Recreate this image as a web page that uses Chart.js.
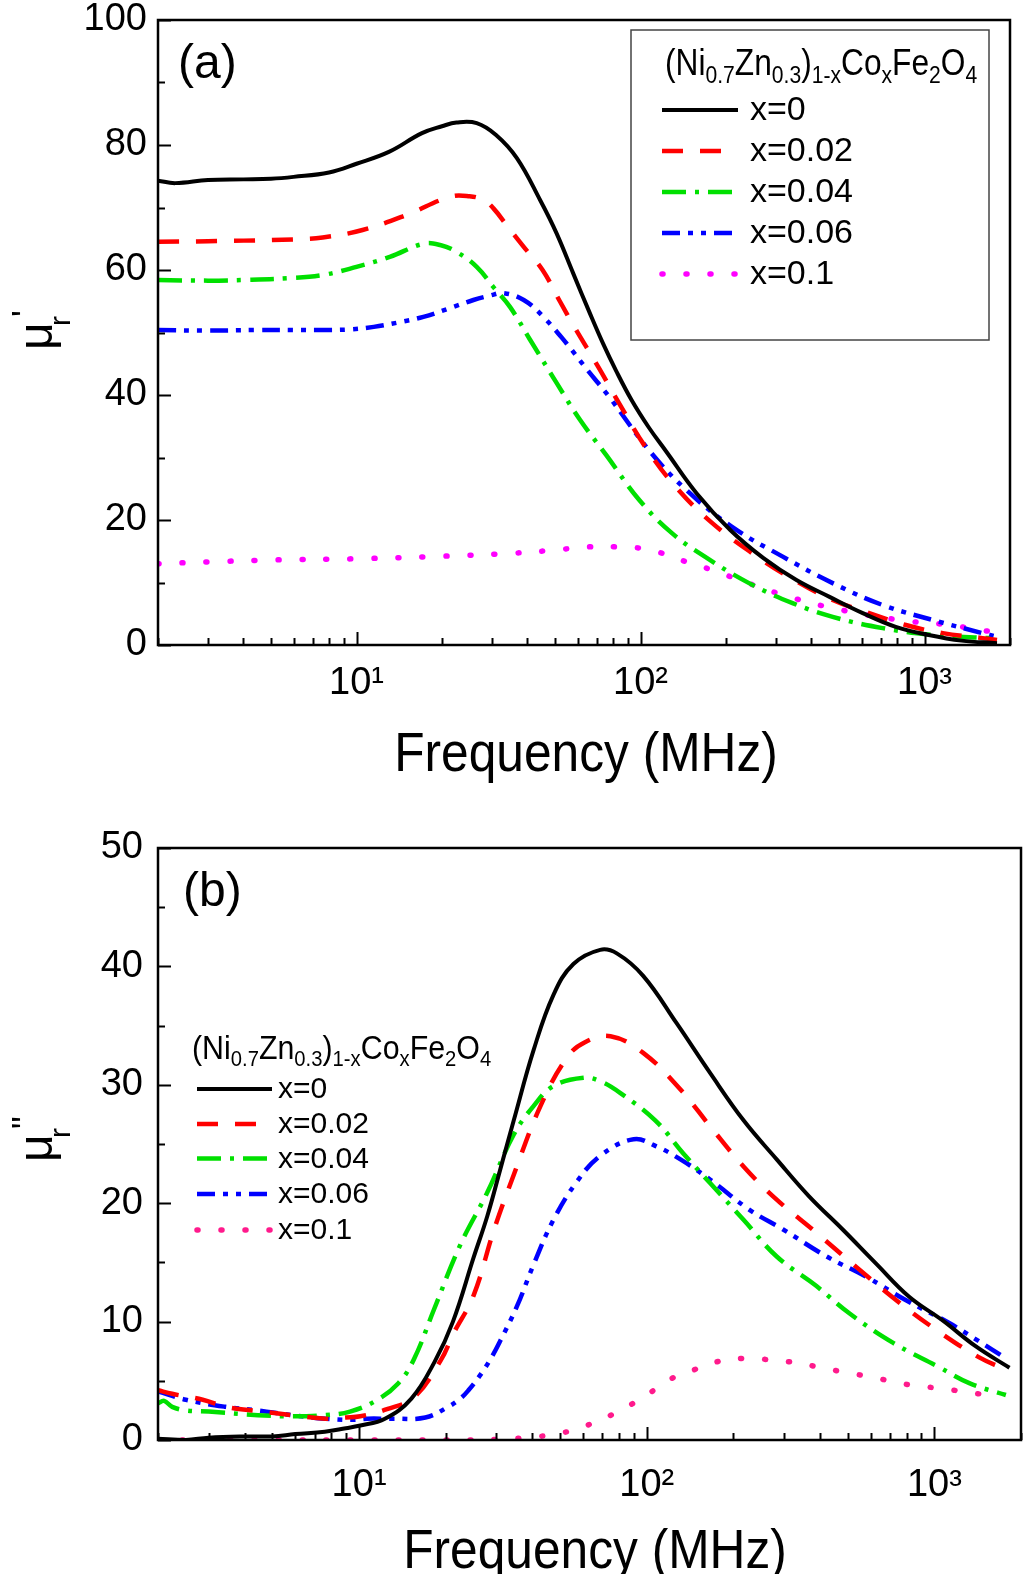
<!DOCTYPE html>
<html>
<head>
<meta charset="utf-8">
<script src="https://cdn.jsdelivr.net/npm/chart.js@4.4.0/dist/chart.umd.min.js"></script>
<style>
  body { margin: 0; background: #fff; overflow: hidden; }
  #wrap { position: relative; width: 1024px; height: 1574px; }
  .panel { position: absolute; left: 0; width: 1024px; height: 787px; }
</style>
</head>
<body>
<div id="wrap">
  <div class="panel" style="top:0"><canvas id="realChart" width="1024" height="787"></canvas></div>
  <div class="panel" style="top:787px"><canvas id="imagChart" width="1024" height="787"></canvas></div>
</div>
<script>
// ---------- data ----------
const seriesLabels = ["x=0", "x=0.02", "x=0.04", "x=0.06", "x=0.1"];
const freqTicks = [10, 100, 1000];
const freqTickLabels = ["10\u00B9", "10\u00B2", "10\u00B3"];
const muRealTicks = [0, 20, 40, 60, 80, 100];
const muImagTicks = [0, 10, 20, 30, 40, 50];

// (a) real part mu'
const fA0 = [2, 2.3, 3, 4, 5, 6, 8, 10, 13, 17, 20, 22.5, 26.5, 31, 36.7, 44.3, 50.6, 57.9, 66.3, 73.7, 82, 93, 107, 123, 158, 207, 271, 354, 463, 606, 792, 1035, 1350, 1800];
const muA0 = [74.3, 73.9, 74.4, 74.5, 74.6, 74.9, 75.6, 77.0, 78.9, 81.9, 83.0, 83.6, 83.5, 81.6, 77.9, 71.2, 65.9, 59.5, 53.1, 48.3, 43.9, 39.2, 34.8, 31.0, 24.2, 18.4, 13.9, 10.4, 7.7, 5.1, 2.9, 1.6, 0.7, 0.3];
const fA1 = [2, 3, 4, 6, 7.6, 10.5, 15, 21.3, 25, 28, 30.3, 34, 38.8, 45.2, 52, 59, 71, 85, 104, 133, 179, 247, 333, 475, 622, 860, 1160, 1600, 1800];
const muA1 = [64.5, 64.6, 64.7, 64.9, 65.2, 66.4, 68.8, 71.7, 71.8, 71.2, 69.9, 67.0, 63.7, 60.0, 55.0, 50.6, 44.5, 38.3, 31.7, 25.3, 19.5, 14.7, 10.9, 7.2, 5.3, 3.2, 1.9, 1.1, 0.8];
const fA2 = [2, 3, 4, 5.8, 7.6, 10, 13.1, 17.2, 19.7, 22.5, 26.5, 30.3, 34.7, 40.9, 50.7, 61.3, 76, 99, 129, 169, 241, 343, 475, 712, 1070, 1500, 1790];
const muA2 = [58.4, 58.3, 58.4, 58.7, 59.2, 60.5, 62.1, 64.2, 64.0, 62.9, 60.5, 57.3, 54.1, 48.8, 41.9, 36.0, 30.3, 23.2, 17.9, 14.1, 9.9, 6.7, 4.5, 2.7, 1.6, 1.2, 1.1];
const fA3 = [2, 3, 4.4, 6, 7.6, 9.5, 11.5, 14, 17.2, 21, 25.8, 29.5, 32.9, 38.8, 45.5, 55, 65, 77.6, 107, 145, 210, 318, 475, 712, 1070, 1600, 1800];
const muA3 = [50.4, 50.3, 50.4, 50.4, 50.4, 50.5, 50.9, 51.6, 52.5, 53.8, 55.2, 55.9, 56.3, 55.2, 52.5, 48.2, 44.0, 39.7, 31.2, 24.8, 18.9, 14.1, 9.9, 6.4, 4.0, 1.9, 1.3];
const fA4 = [2, 3, 5, 10, 20, 36, 50, 66, 82, 99, 119, 145, 179, 223, 318, 475, 813, 1223, 1520, 1800];
const muA4 = [13.0, 13.3, 13.6, 13.8, 14.2, 14.7, 15.2, 15.7, 15.7, 15.5, 14.7, 13.3, 12.0, 10.4, 8.0, 5.9, 4.0, 3.2, 2.5, 2.0];

// (b) imaginary part mu''
const fB0 = [2, 2.5, 3, 4, 5, 6, 7.6, 9, 10, 12.3, 15.2, 18.3, 21.2, 25, 27.9, 31, 34.5, 40.4, 47.4, 55.6, 68.9, 78.7, 97.2, 127, 166, 217, 283, 366, 479, 627, 817, 1068, 1394, 1824];
const muB0 = [0.1, 0.0, 0.2, 0.3, 0.3, 0.5, 0.7, 1.0, 1.2, 1.8, 3.5, 6.6, 10.0, 15.4, 18.9, 22.9, 27.0, 32.9, 37.6, 40.2, 41.4, 41.1, 39.2, 35.2, 31.0, 27.0, 23.7, 20.6, 17.8, 14.9, 12.1, 10.1, 7.9, 6.1];
const fB1 = [2, 2.24, 2.86, 3.44, 4.26, 5.85, 7.64, 9, 10.1, 12.5, 15.5, 19.2, 21.3, 25, 29.4, 34.5, 42.7, 52.8, 61, 74.8, 97.2, 131, 166, 217, 283, 389, 536, 737, 1015, 1426, 1750];
const muB1 = [4.2, 3.9, 3.4, 2.8, 2.5, 2.1, 1.8, 1.9, 2.0, 2.6, 3.6, 6.7, 9.0, 12.2, 17.7, 22.4, 28.2, 32.3, 33.6, 34.1, 32.7, 29.6, 26.5, 23.1, 20.3, 17.5, 14.6, 11.8, 9.3, 7.0, 6.0];
const fB2 = [2, 2.1, 2.24, 2.5, 3.0, 4.45, 5.85, 7.64, 9.3, 11.4, 13.7, 15.5, 18.2, 22.5, 27.9, 34.5, 40.4, 47.4, 60.3, 68.9, 81, 107, 134, 166, 217, 283, 389, 506, 719, 1030, 1322, 1772];
const muB2 = [3.1, 3.3, 2.8, 2.5, 2.4, 2.1, 2.0, 2.1, 2.4, 3.3, 4.8, 6.8, 11.0, 16.5, 20.9, 25.8, 28.2, 29.9, 30.6, 30.3, 29.3, 27.0, 24.2, 21.7, 18.6, 15.5, 13.0, 10.7, 8.2, 6.2, 4.8, 3.8];
const fB3 = [2, 2.5, 3.44, 4.45, 5.85, 7.64, 9.5, 10.7, 13, 17, 20.4, 22.5, 24, 26.4, 28.9, 31, 35.4, 40.4, 47.4, 57.1, 68.9, 90, 108, 131, 166, 229, 297, 422, 578, 797, 1122, 1394, 1772];
const muB3 = [4.1, 3.4, 2.8, 2.5, 2.1, 1.8, 1.7, 1.8, 1.8, 1.9, 2.8, 3.5, 4.2, 5.5, 7.0, 8.4, 11.3, 14.8, 18.6, 21.8, 24.0, 25.4, 24.8, 23.7, 22.0, 19.4, 17.8, 15.5, 13.8, 11.8, 9.9, 8.5, 6.9];
const fB4 = [2, 5, 10, 20, 30, 37.8, 45.4, 54.9, 65.9, 81, 100, 120, 145, 175, 217, 260, 314, 389, 468, 578, 698, 844, 1013, 1254, 1515];
const muB4 = [0, 0, 0, 0, 0.05, 0.2, 0.4, 0.8, 1.5, 2.5, 3.8, 5.1, 5.9, 6.6, 6.9, 6.8, 6.6, 6.2, 5.8, 5.4, 5.0, 4.6, 4.4, 4.1, 3.8];

// ---------- styles ----------
const FONT = '"Liberation Sans", Arial, sans-serif';
Chart.defaults.font.family = FONT;
Chart.defaults.color = "#000";

const colorsA = ["#000000", "#ff0000", "#00e000", "#0000ff", "#ff00ff"];
const colorsB = ["#000000", "#ff0000", "#00e000", "#0000ff", "#ff1a8c"];
const lineStyles = [
    { dash: [], cap: "butt", width: 4 },
    { dash: [21, 17], cap: "butt", width: 4.5 },
    { dash: [24, 9, 4, 9], cap: "butt", width: 4.5 },
    { dash: [18, 8, 5, 8, 5, 8], cap: "butt", width: 4.5 },
    { dash: [1, 23], cap: "round", width: 5.5 }
];
const formulaParts = [["(Ni", 0], ["0.7", 1], ["Zn", 0], ["0.3", 1], [")", 0], ["1-x", 1],
                      ["Co", 0], ["x", 1], ["Fe", 0], ["2", 1], ["O", 0], ["4", 1]];

function toPoints(fs, vs) {
    return fs.map((f, i) => ({ x: f, y: vs[i] }));
}

function makeDatasets(freqs, values, colors) {
    return values.map((vs, i) => ({
        label: seriesLabels[i],
        data: toPoints(freqs[i], vs),
        borderColor: colors[i],
        borderWidth: lineStyles[i].width,
        borderDash: lineStyles[i].dash,
        borderCapStyle: lineStyles[i].cap,
        pointRadius: 0,
        fill: false,
        tension: 0.4
    }));
}

// rich text with subscripts, left to right, slightly condensed
function drawFormula(ctx, x, y, L) {
    ctx.save();
    ctx.translate(x, y);
    ctx.scale(L.squeeze, 1);
    ctx.textAlign = "left";
    ctx.textBaseline = "alphabetic";
    let cx = 0;
    formulaParts.forEach(([txt, sub]) => {
        ctx.font = (sub ? L.subSize : L.titleSize) + "px " + FONT;
        ctx.fillText(txt, cx, sub ? L.subDrop : 0);
        cx += ctx.measureText(txt).width;
    });
    ctx.restore();
}

// ---------- frame, inner ticks, labels, legend ----------
const panelPlugin = {
    id: "panel",
    afterDraw(chart) {
        const o = chart.options.plugins.panel;
        const { ctx, chartArea: a } = chart;
        const xs = chart.scales.x, ys = chart.scales.y;
        ctx.save();
        ctx.strokeStyle = "#000";
        ctx.fillStyle = "#000";

        // minor / major ticks on bottom axis (log), pointing inwards
        ctx.lineWidth = 2;
        for (let d = 1; d <= 1000; d *= 10) {
            for (let m = 1; m <= 9; m++) {
                const v = d * m;
                if (v < xs.min || v > xs.max) continue;
                const px = Math.round(xs.getPixelForValue(v)) + 0.5;
                const len = m === 1 ? 13 : 7;
                ctx.beginPath();
                ctx.moveTo(px, a.bottom);
                ctx.lineTo(px, a.bottom - len);
                ctx.stroke();
            }
        }
        // left axis ticks
        for (let v = ys.min; v <= ys.max; v += o.minorStep) {
            const py = Math.round(ys.getPixelForValue(v)) + 0.5;
            const len = (v % o.majorStep === 0) ? 13 : 7;
            ctx.beginPath();
            ctx.moveTo(a.left, py);
            ctx.lineTo(a.left + len, py);
            ctx.stroke();
        }
        // frame
        ctx.lineWidth = 2.5;
        ctx.strokeRect(a.left, a.top, a.right - a.left, a.bottom - a.top);

        // panel tag
        ctx.font = "48px " + FONT;
        ctx.textAlign = "left";
        ctx.textBaseline = "alphabetic";
        ctx.fillText(o.tag, o.tagX, o.tagY);

        // x title (condensed like the original)
        ctx.save();
        ctx.translate(o.xTitleX, o.xTitleY);
        ctx.scale(0.887, 1);
        ctx.font = "56px " + FONT;
        ctx.textAlign = "center";
        ctx.fillText("Frequency (MHz)", 0, 0);
        ctx.restore();

        // y title: mu with subscript r and primes, rotated
        ctx.save();
        ctx.translate(52, o.yTitleY);
        ctx.rotate(-Math.PI / 2);
        ctx.textAlign = "left";
        ctx.font = "48px " + FONT;
        ctx.fillText("\u03BC", 0, 0);
        ctx.font = "30px " + FONT;
        ctx.fillText("r", 24, 18);
        ctx.font = "36px " + FONT;
        ctx.fillText(o.primes, 33, -14);
        ctx.restore();

        // legend
        const L = o.legend;
        if (L.box) {
            ctx.lineWidth = 1.5;
            ctx.strokeStyle = "#444";
            ctx.strokeRect(L.box[0], L.box[1], L.box[2], L.box[3]);
        }
        drawFormula(ctx, L.titleX, L.titleY, L);
        chart.data.datasets.forEach((ds, i) => {
            const cy = L.rows[i];
            ctx.save();
            ctx.strokeStyle = ds.borderColor;
            ctx.lineWidth = ds.borderWidth;
            ctx.setLineDash(ds.borderDash);
            ctx.lineCap = ds.borderCapStyle;
            ctx.beginPath();
            ctx.moveTo(L.lineX0, cy);
            ctx.lineTo(L.lineX1, cy);
            ctx.stroke();
            ctx.restore();
            ctx.font = L.textSize + "px " + FONT;
            ctx.textBaseline = "middle";
            ctx.textAlign = "left";
            ctx.fillText(ds.label, L.textX, cy + 1);
        });
        ctx.restore();
    }
};

function makeChart(id, cfg) {
    return new Chart(document.getElementById(id), {
        type: "line",
        data: { datasets: cfg.datasets },
        plugins: [panelPlugin],
        options: {
            responsive: false,
            animation: false,
            devicePixelRatio: 1,
            layout: { padding: { top: cfg.padTop, right: cfg.padRight, left: 0, bottom: 0 } },
            plugins: {
                legend: { display: false },
                tooltip: { enabled: false },
                panel: cfg.panel
            },
            scales: {
                x: {
                    type: "logarithmic",
                    min: 2,
                    max: 2000,
                    afterBuildTicks: s => { s.ticks = freqTicks.map(v => ({ value: v })); },
                    afterFit: s => { s.height = cfg.xHeight; s.paddingLeft = 0; s.paddingRight = 0; },
                    ticks: {
                        autoSkip: false,
                        maxRotation: 0,
                        padding: cfg.xPad,
                        font: { size: 38 },
                        color: "#000",
                        callback: v => freqTickLabels[freqTicks.indexOf(v)] || ""
                    },
                    grid: { display: false, drawTicks: false },
                    border: { display: false }
                },
                y: {
                    min: 0,
                    max: cfg.yMax,
                    afterBuildTicks: s => { s.ticks = cfg.yTicks.map(v => ({ value: v })); },
                    afterFit: s => { s.width = 158; s.paddingTop = 0; s.paddingBottom = 0; },
                    ticks: {
                        padding: cfg.yPad,
                        font: { size: 38 },
                        color: "#000"
                    },
                    grid: { display: false, drawTicks: false },
                    border: { display: false }
                }
            }
        }
    });
}

// ============================
// (a) mu' chart
// ============================
makeChart("realChart", {
    datasets: makeDatasets([fA0, fA1, fA2, fA3, fA4], [muA0, muA1, muA2, muA3, muA4], colorsA),
    padTop: 20, padRight: 14, xHeight: 142, xPad: 16, yPad: 11,
    yMax: 100, yTicks: muRealTicks,
    panel: {
        minorStep: 10, majorStep: 20,
        tag: "(a)", tagX: 178, tagY: 78,
        xTitleX: 586, xTitleY: 771,
        yTitleY: 350, primes: "'",
        legend: {
            box: [631, 30, 358, 310],
            titleX: 665, titleY: 75, titleSize: 36, subSize: 24, subDrop: 8, squeeze: 0.88,
            lineX0: 662, lineX1: 738, textX: 750, textSize: 34,
            rows: [110, 151, 192, 233, 274]
        }
    }
});

// ============================
// (b) mu'' chart
// ============================
makeChart("imagChart", {
    datasets: makeDatasets([fB0, fB1, fB2, fB3, fB4], [muB0, muB1, muB2, muB3, muB4], colorsB),
    padTop: 61, padRight: 3, xHeight: 134, xPad: 23, yPad: 15,
    yMax: 50, yTicks: muImagTicks,
    panel: {
        minorStep: 5, majorStep: 10,
        tag: "(b)", tagX: 183, tagY: 119,
        xTitleX: 595, xTitleY: 781,
        yTitleY: 375, primes: "\"",
        legend: {
            box: null,
            titleX: 192, titleY: 272, titleSize: 33, subSize: 22, subDrop: 7, squeeze: 0.92,
            lineX0: 197, lineX1: 272, textX: 278, textSize: 30,
            rows: [302, 337, 371.5, 407, 443]
        }
    }
});
</script>
</body>
</html>
